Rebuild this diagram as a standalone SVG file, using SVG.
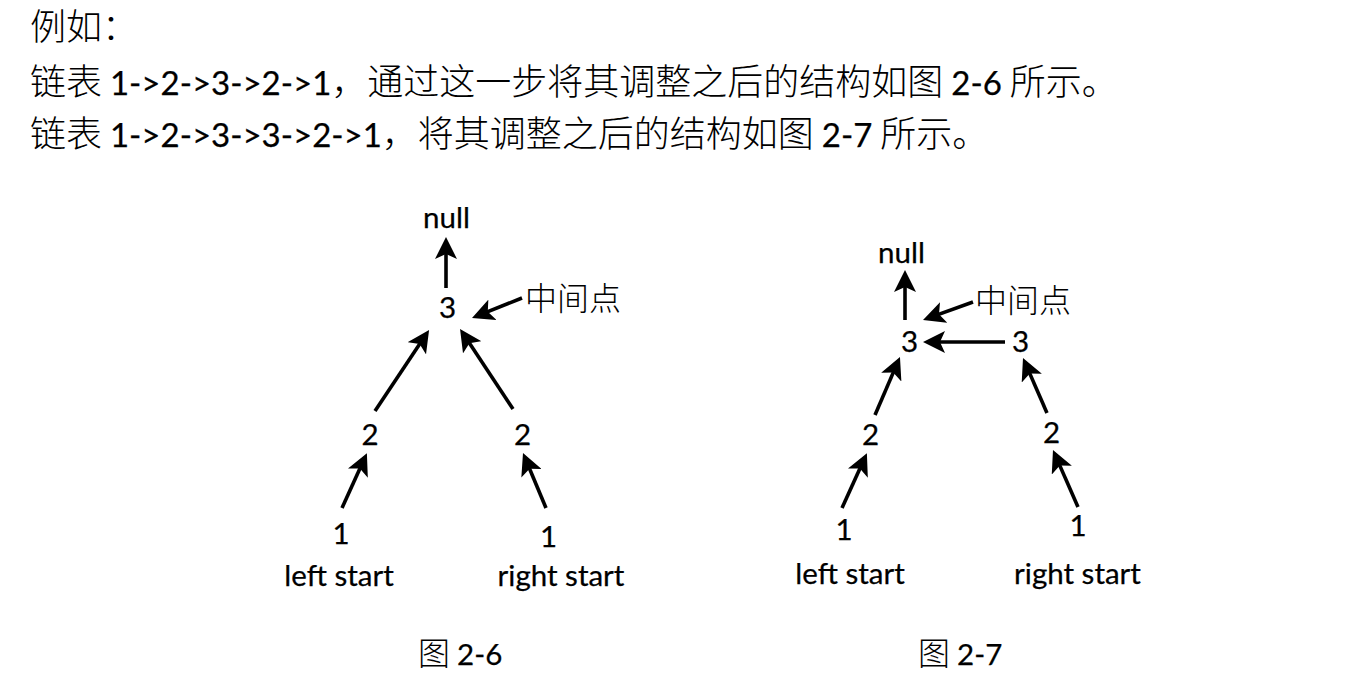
<svg xmlns="http://www.w3.org/2000/svg" width="1346" height="694" viewBox="0 0 1346 694">
<style>
text{fill:#000;font-family:Lato,"Noto Sans CJK SC",sans-serif}
.h{font-size:33px;stroke:#000;stroke-width:0.25}
.hc{font-size:36px;font-family:"Noto Sans CJK SC",sans-serif;font-weight:300}
.n{font-size:29.5px;text-anchor:middle;stroke:#000;stroke-width:0.25}
.c{font-size:32px;font-family:"Noto Sans CJK SC",sans-serif;font-weight:300}
.cap{font-size:29.5px;stroke:#000;stroke-width:0.25}
.conn line{stroke:#000;stroke-width:3.6;marker-end:url(#ah)}
</style>
<defs>
<marker id="ah" markerUnits="userSpaceOnUse" markerWidth="22" markerHeight="22" viewBox="0 0 22 22" refX="15" refY="11" orient="auto">
<path d="M0,0 L22,11 L0,22 L5,11 z" fill="#000"/>
</marker>
</defs>
<rect width="1346" height="694" fill="#fff"/>
<g id="header">
<text x="30" y="40" class="hc">例如：</text>
<text x="30" y="95"><tspan class="hc">链表 </tspan><tspan class="h">1-&gt;2-&gt;3-&gt;2-&gt;1</tspan><tspan class="hc">，通过这一步将其调整之后的结构如图 </tspan><tspan class="h">2-6</tspan><tspan class="hc"> 所示。</tspan></text>
<text x="30" y="147"><tspan class="hc">链表 </tspan><tspan class="h">1-&gt;2-&gt;3-&gt;3-&gt;2-&gt;1</tspan><tspan class="hc">，将其调整之后的结构如图 </tspan><tspan class="h">2-7</tspan><tspan class="hc"> 所示。</tspan></text>
</g>
<g id="fig26">
<g id="f1-null"><text x="446.5" y="228" class="n">null</text></g>
<g id="f1-3"><text x="447.5" y="318" class="n">3</text></g>
<g id="f1-mid"><text x="525" y="310" class="c">中间点</text></g>
<g id="f1-2l"><text x="370" y="445" class="n">2</text></g>
<g id="f1-2r"><text x="522.5" y="445" class="n">2</text></g>
<g id="f1-1l"><text x="341" y="544" class="n">1</text><text x="339" y="586" class="n">left start</text></g>
<g id="f1-1r"><text x="548.5" y="547" class="n">1</text><text x="561" y="586" class="n">right start</text></g>
<g id="f1-cap"><text x="418" y="665"><tspan class="c">图 </tspan><tspan class="cap">2-6</tspan></text></g>
</g>
<g id="fig27">
<g id="f2-null"><text x="901.5" y="263" class="n">null</text></g>
<g id="f2-3l"><text x="909.5" y="352" class="n">3</text></g>
<g id="f2-3r"><text x="1020.5" y="352" class="n">3</text></g>
<g id="f2-mid"><text x="975" y="312" class="c">中间点</text></g>
<g id="f2-2l"><text x="870.5" y="445" class="n">2</text></g>
<g id="f2-2r"><text x="1051.5" y="443" class="n">2</text></g>
<g id="f2-1l"><text x="844" y="540" class="n">1</text><text x="850" y="584" class="n">left start</text></g>
<g id="f2-1r"><text x="1078" y="536" class="n">1</text><text x="1077.5" y="584" class="n">right start</text></g>
<g id="f2-cap"><text x="918" y="665"><tspan class="c">图 </tspan><tspan class="cap">2-7</tspan></text></g>
</g>
<g id="connectors" class="conn">
<line x1="446" y1="288" x2="446" y2="244"/>
<line x1="522" y1="298" x2="478.5" y2="315.4"/>
<line x1="375" y1="411" x2="425.2" y2="335.8"/>
<line x1="513" y1="409" x2="463.9" y2="334.8"/>
<line x1="342" y1="508" x2="364" y2="459.5"/>
<line x1="546" y1="508" x2="525.7" y2="459.5"/>
<line x1="905" y1="320" x2="905" y2="277"/>
<line x1="973" y1="302" x2="929.6" y2="317.6"/>
<line x1="1005" y1="342" x2="930" y2="342"/>
<line x1="875" y1="415" x2="897.2" y2="363.4"/>
<line x1="1047" y1="413" x2="1025.8" y2="364.4"/>
<line x1="842" y1="508" x2="864" y2="459.5"/>
<line x1="1078" y1="507" x2="1055.8" y2="456.4"/>
</g>
</svg>
